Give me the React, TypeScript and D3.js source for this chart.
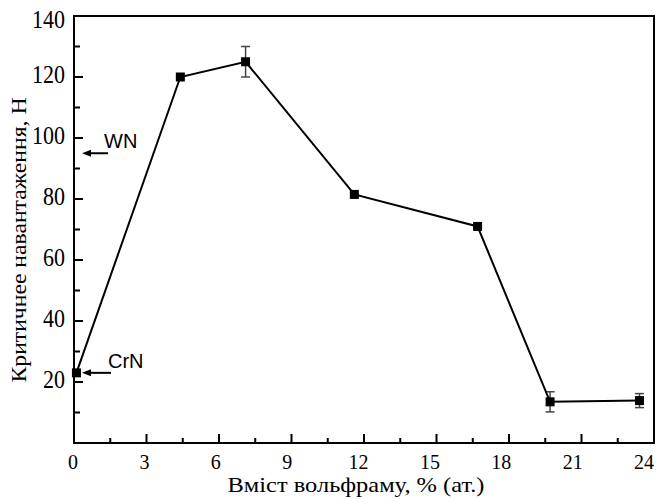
import * as d3 from 'd3';
import React from 'react';

// W content (at.%) vs critical load (N)
const tungsten = [0.1, 4.4, 7.1, 11.6, 16.7, 19.7, 23.4];
const criticalLoad = [23, 120, 125, 81.5, 71, 13.5, 13.9];
const loadError = [0, 0, 5, 0, 0, 3.3, 2.3];

const xTicks = [0, 3, 6, 9, 12, 15, 18, 21, 24];
const xMinor = [1.5, 4.5, 7.5, 10.5, 13.5, 16.5, 19.5, 22.5];
const yTicks = [20, 40, 60, 80, 100, 120, 140];
const yMinor = [10, 30, 50, 70, 90, 110, 130];

const refLabels = ['WN', 'CrN'];
const refValues = [95, 23];

const W = 657;
const H = 499;
const M = { left: 74, right: 3, top: 16, bottom: 56 };

const SERIF = "'Liberation Serif', 'DejaVu Serif', 'Noto Serif', FreeSerif, Times, serif";
const SANS = "'Liberation Sans', Arial, sans-serif";

export default function App() {
    const x = d3.scaleLinear().domain([0, 24]).range([M.left, W - M.right]);
    const y = d3.scaleLinear().domain([0, 140]).range([H - M.bottom, M.top]);
    // the scanned tick labels sit slightly left of their ticks towards the right end
    const xLab = d3.scaleLinear().domain([0, 24]).range([x(0) - 1, x(24) - 10]);

    const points = tungsten.map((t, i) => ({ t, v: criticalLoad[i], e: loadError[i] }));
    const line = d3.line<{ t: number; v: number }>().x((d) => x(d.t)).y((d) => y(d.v));

    const x0 = x(0);
    const x1 = x(24);
    const yb = y(0);
    const yt = y(140);

    return (
        <div style={{ position: 'absolute', left: 0, top: 0 }}>
            <svg width={W} height={H} style={{ display: 'block', background: '#fff' }}>
                {/* ticks, inside */}
                {xTicks.map((t) => (
                    <line key={`xt${t}`} x1={x(t)} x2={x(t)} y1={yb} y2={yb - 9} stroke="#000" strokeWidth={2} />
                ))}
                {xMinor.map((t) => (
                    <line key={`xm${t}`} x1={x(t)} x2={x(t)} y1={yb} y2={yb - 5} stroke="#000" strokeWidth={2} />
                ))}
                {yTicks.map((t) => (
                    <line key={`yt${t}`} x1={x0} x2={x0 + 9} y1={y(t)} y2={y(t)} stroke="#000" strokeWidth={2} />
                ))}
                {yMinor.map((t) => (
                    <line key={`ym${t}`} x1={x0} x2={x0 + 6} y1={y(t)} y2={y(t)} stroke="#000" strokeWidth={2} />
                ))}

                {/* frame */}
                <rect x={x0} y={yt} width={x1 - x0} height={yb - yt} fill="none" stroke="#000" strokeWidth={2} />

                {/* tick labels */}
                {xTicks.map((t) => (
                    <text key={`xl${t}`} transform={`translate(${xLab(t)},${yb + 26}) scale(1,1.1)`}
                        textAnchor="middle" fontFamily={SERIF} fontSize={20} fill="#000">
                        {t}
                    </text>
                ))}
                {yTicks.map((t) => (
                    <text key={`yl${t}`} transform={`translate(${x0 - 9},${Math.max(y(t), yt + 6) + 6}) scale(1,1.15)`}
                        textAnchor="end" fontFamily={SERIF} fontSize={22} fill="#000">
                        {t}
                    </text>
                ))}

                {/* axis titles */}
                <text x={356} y={492} textAnchor="middle" fontFamily={SERIF} fontSize={21}
                    textLength={257} lengthAdjust="spacingAndGlyphs" fill="#000">
                    Вміст вольфраму, % (ат.)
                </text>
                <text transform={`translate(26,240) rotate(-90)`} textAnchor="middle" fontFamily={SERIF}
                    fontSize={21} textLength={285} lengthAdjust="spacingAndGlyphs" fill="#000">
                    Критичнее навантаження, Н
                </text>

                {/* reference arrows */}
                {refLabels.map((lab, i) => {
                    const yy = y(refValues[i]);
                    const tail = x0 + (i === 0 ? 34 : 37);
                    const tip = x0 + 8;
                    return (
                        <g key={lab}>
                            <line x1={tail} x2={tip + 7} y1={yy} y2={yy} stroke="#000" strokeWidth={2} />
                            <path d={`M${tip},${yy} L${tip + 9},${yy - 3.5} L${tip + 9},${yy + 3.5} Z`} fill="#000" />
                            <text x={x0 + (i === 0 ? 30 : 34)} y={yy - 5} fontFamily={SANS}
                                fontSize={20} fill="#000">
                                {lab}
                            </text>
                        </g>
                    );
                })}

                {/* error bars */}
                {points.filter((p) => p.e > 0).map((p) => (
                    <g key={`e${p.t}`} stroke="#444" strokeWidth={1.5}>
                        <line x1={x(p.t)} x2={x(p.t)} y1={y(p.v - p.e)} y2={y(p.v + p.e)} />
                        <line x1={x(p.t) - 4.5} x2={x(p.t) + 4.5} y1={y(p.v - p.e)} y2={y(p.v - p.e)} />
                        <line x1={x(p.t) - 4.5} x2={x(p.t) + 4.5} y1={y(p.v + p.e)} y2={y(p.v + p.e)} />
                    </g>
                ))}

                <path d={line(points) ?? ''} fill="none" stroke="#000" strokeWidth={2} />

                {points.map((p) => (
                    <rect key={`p${p.t}`} x={x(p.t) - 4.5} y={y(p.v) - 4.5} width={9} height={9} fill="#000" />
                ))}
            </svg>
        </div>
    );
}
